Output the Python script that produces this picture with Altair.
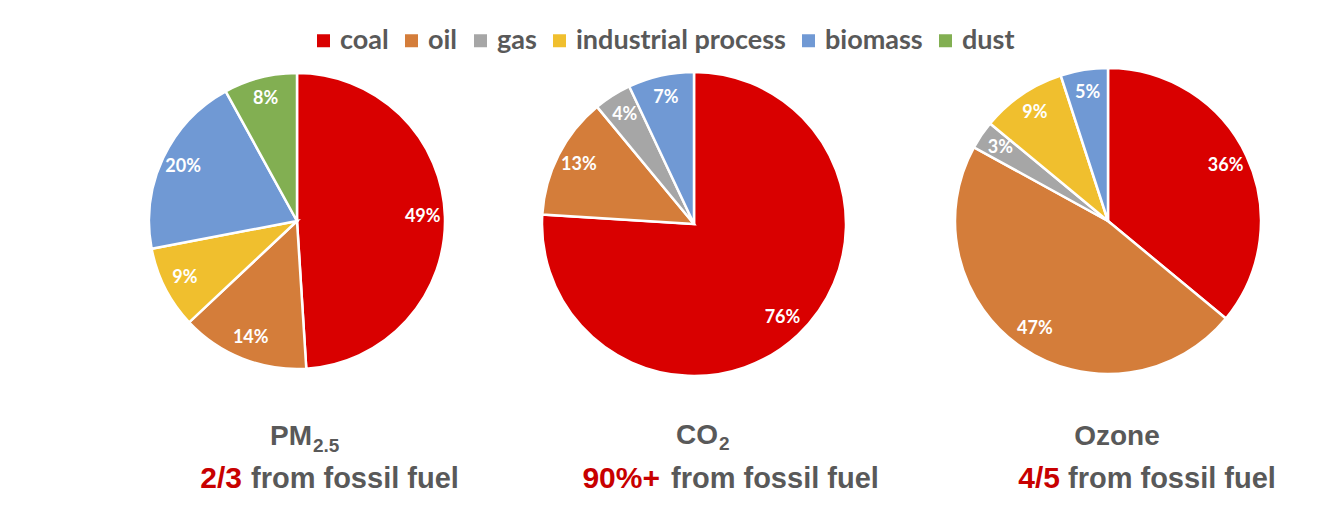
import altair as alt
import pandas as pd

sources = ["coal", "oil", "gas", "industrial process", "biomass", "dust"]
colors = ["#D90000", "#D47D3A", "#A6A6A6", "#F0BF2E", "#7099D4", "#82AF52"]
pm25 = [49, 14, 0, 9, 20, 8]
co2 = [76, 13, 4, 0, 7, 0]
ozone = [36, 47, 3, 9, 5, 0]

GRAY = "#595959"
RED = "#C80000"
OFF = 8  # page margin


def frame(vals):
    rows = []
    for i, (s, v) in enumerate(zip(sources, vals)):
        if v > 0:
            rows.append({"source": s, "value": v, "idx": i, "label": f"{v}%"})
    return pd.DataFrame(rows)


color_scale = alt.Scale(domain=sources, range=colors)
legend = alt.Legend(
    orient="none", legendX=302, legendY=19, direction="horizontal", title=None,
    symbolType="square", symbolSize=169, symbolStrokeWidth=0, symbolOpacity=1,
    labelFontSize=27, labelFont="Lato", labelFontWeight="bold", labelColor=GRAY,
    labelLimit=0, columnPadding=9, labelOffset=3, padding=0,
)


def pie(vals, cx, cy, R, show_legend=False):
    d = frame(vals)
    base = alt.Chart(d)
    arc = base.mark_arc(outerRadius=R, stroke="white", strokeWidth=2.5).encode(
        theta=alt.Theta("value:Q", stack=True),
        color=alt.Color("source:N", scale=color_scale, legend=legend if show_legend else None),
        order=alt.Order("idx:Q"),
        x=alt.value(cx - OFF), y=alt.value(cy - OFF),
    )
    txt = base.mark_text(radius=R * 0.85, font="Lato", fontSize=18, fontWeight="bold",
                         color="white", align="center", baseline="middle").encode(
        theta=alt.Theta("value:Q", stack=True),
        order=alt.Order("idx:Q"),
        text="label:N",
        x=alt.value(cx - OFF), y=alt.value(cy - OFF),
    )
    return alt.layer(arc, txt).resolve_scale(theta="independent")


def label(t, x, y, size, color, align):
    return alt.Chart(alt.Data(values=[{}])).mark_text(
        text=t, align=align, baseline="alphabetic", fontSize=size, fontWeight="bold",
        font="Liberation Sans", color=color,
    ).encode(x=alt.value(x - OFF), y=alt.value(y - OFF))


layers = [
    pie(pm25, 297, 221, 148, True),
    pie(co2, 694, 224, 152),
    pie(ozone, 1108, 221, 153),
    label("PM", 312, 445, 28, GRAY, "right"),
    label("2.5", 313, 452, 19, GRAY, "left"),
    label("CO", 718, 444, 28, GRAY, "right"),
    label("2", 719, 450, 19, GRAY, "left"),
    label("Ozone", 1117, 445, 28, GRAY, "center"),
    label("2/3", 242, 488, 30, RED, "right"),
    label("from fossil fuel", 251, 488, 29, GRAY, "left"),
    label("90%+", 660, 488, 30, RED, "right"),
    label("from fossil fuel", 671, 488, 29, GRAY, "left"),
    label("4/5", 1060, 488, 30, RED, "right"),
    label("from fossil fuel", 1068, 488, 29, GRAY, "left"),
]

chart = alt.layer(*layers).resolve_scale(theta="independent").properties(
    width=1325, height=500, padding=0
).configure_view(strokeWidth=0)

chart.save("out.html", embed_options={"renderer": "svg", "actions": False})
